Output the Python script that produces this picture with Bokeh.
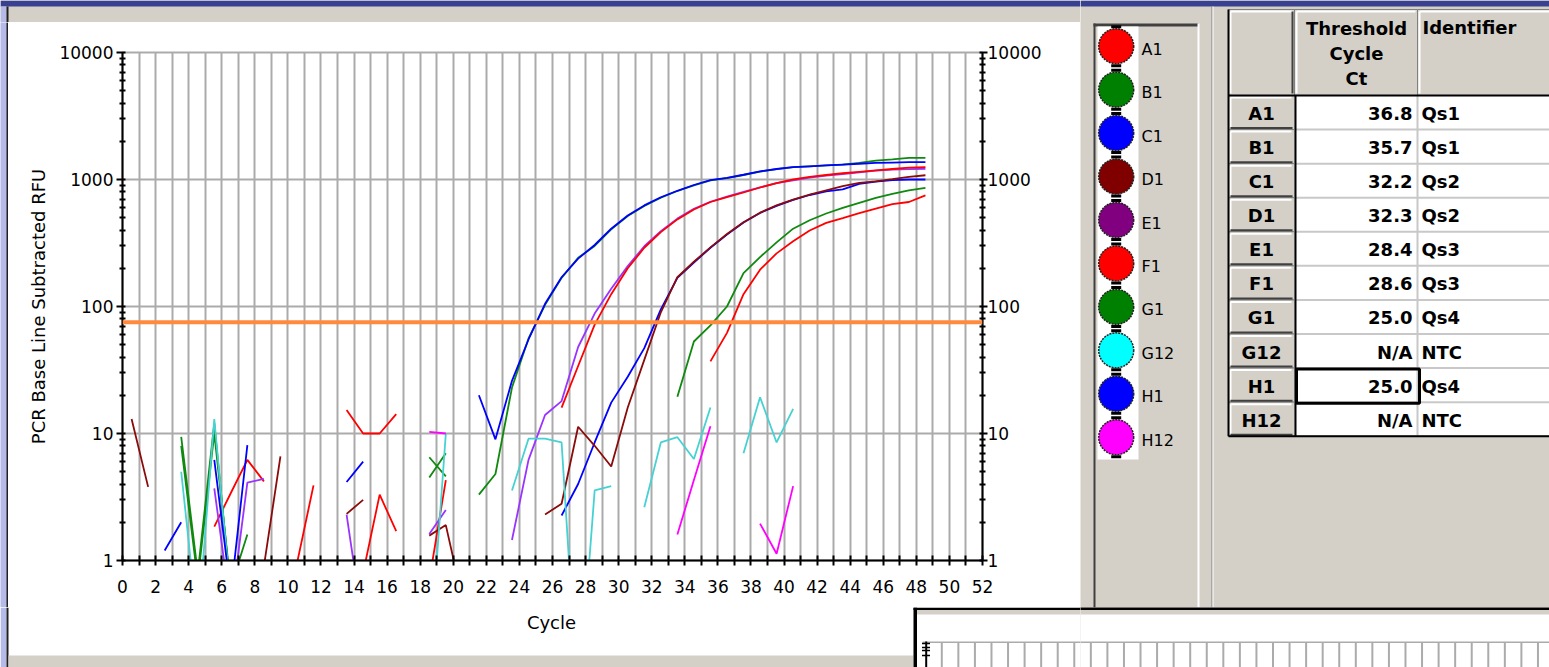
import numpy as np
from bokeh.plotting import figure
from bokeh.models import Range1d, LogAxis, FixedTicker, NumeralTickFormatter, Span
from bokeh.layouts import row, column
from bokeh.core.properties import value
from bokeh.embed import file_html
from bokeh.resources import INLINE

# ---------------- data ----------------
CYCLES = [0.55, 1.55, 2.55, 3.55, 4.55, 5.55, 6.55, 7.55, 8.55, 9.55,
          10.55, 11.55, 12.55, 13.55, 14.55, 15.55, 16.55, 17.55, 18.55, 19.55,
          20.55, 21.55, 22.55, 23.55, 24.55, 25.55, 26.55, 27.55, 28.55, 29.55,
          30.55, 31.55, 32.55, 33.55, 34.55, 35.55, 36.55, 37.55, 38.55, 39.55,
          40.55, 41.55, 42.55, 43.55, 44.55, 45.55, 46.55, 47.55, 48.55]
N = None
A1 = [N, N, N, N, N, 1.85, 3.4, 6.2, 4.2, N,
      N, N, N, N, 0.8, 3.3, 1.7, N, 0.7, 4.3,
      N, N, N, N, N, N, N, N, N, N,
      N, N, N, N, N, 37, 62, 125, 195, 262,
      326, 397, 455, 497, 544, 590, 640, 665, 750]
B1 = [N, N, N, 9.4, 0.8, 12, 0.55, N, N, N,
      N, N, N, N, N, N, N, N, 4.5, 7.0,
      N, N, N, N, N, N, N, N, N, N,
      N, N, N, 19.5, 53, 71, 100, 183, 245, 320,
      410, 478, 540, 598, 655, 718, 772, 820, 860]
C1 = [N, N, 1.2, 2.0, N, N, N, N, N, N,
      N, N, N, 4.15, 6.0, N, N, N, N, N,
      N, N, N, N, N, N, 2.26, 4.0, 8.5, 17.5,
      28, 47, 95, 168, 222, 290, 368, 458, 545, 620,
      690, 755, 805, 835, 925, 962, 990, 1000, 1000]
D1 = [13, 3.8, N, N, N, N, N, N, 0.9, 6.6,
      N, N, N, 2.33, 3.0, N, N, N, 1.57, 1.9,
      0.5, N, N, N, N, 2.3, 2.8, 11.3, 8.0, 5.5,
      16, 38, 90, 170, 225, 292, 372, 460, 548, 625,
      695, 760, 820, 885, 940, 965, 1005, 1050, 1080]
E1 = [N, N, N, N, N, 3.7, 0.4, 4.1, 4.4, N,
      N, N, N, 2.3, 0.3, N, N, N, 1.62, 2.5,
      N, N, N, 1.45, 6.2, 14, 18, 48, 88, 138,
      208, 298, 392, 492, 588, 668, 732, 798, 868, 935,
      985, 1035, 1075, 1105, 1140, 1175, 1195, 1205, 1215]
F1 = [N, N, N, N, N, N, N, N, N, N,
      0.95, 3.9, N, 15.3, 10, 10, 14.2, N, N, N,
      N, N, N, N, N, N, 16, 34, 72, 125,
      200, 290, 385, 485, 580, 665, 725, 790, 865, 935,
      1000, 1050, 1085, 1120, 1150, 1180, 1210, 1240, 1250]
G1 = [N, N, N, 8, 0.7, 10, 0.62, 1.6, N, N,
      N, N, N, N, N, N, N, N, 6.5, 4.6,
      N, 3.3, 4.8, 23, 56, 103, 168, 242, 300, 405,
      515, 618, 718, 812, 900, 985, 1025, 1085, 1155, 1205,
      1250, 1270, 1290, 1310, 1350, 1410, 1440, 1480, 1480]
G12 = [N, N, N, 5, 0.3, 13, 0.5, N, N, N,
       N, N, N, N, N, N, N, N, 0.15, 10,
       N, N, N, 3.56, 9.1, 9.1, 8.5, 0.07, 3.56, 3.85,
       N, 2.63, 8.5, 9.35, 6.3, 16, N, 7, 19.3, 8.5,
       15.6, N, N, N, N, N, N, N, N]
H1 = [N, N, N, N, N, 6.2, 0.55, 8.1, N, N,
      N, N, N, N, N, N, N, N, N, N,
      N, 20, 9, 26, 55, 105, 170, 238, 305, 410,
      520, 625, 725, 815, 905, 990, 1030, 1090, 1160, 1210,
      1250, 1270, 1290, 1310, 1330, 1350, 1360, 1370, 1370]
H12 = [N, N, N, N, N, N, N, N, N, N,
       N, N, N, N, N, N, N, N, 10.3, 10,
       N, N, N, N, N, N, N, N, N, N,
       N, N, N, 1.6, 4.3, 11.4, N, N, 1.95, 1.13,
       3.85, N, N, N, N, N, N, N, N]

WELLS = ["A1", "B1", "C1", "D1", "E1", "F1", "G1", "G12", "H1", "H12"]
SERIES = [A1, B1, C1, D1, E1, F1, G1, G12, H1, H12]
WELL_COLORS = ["#FF0000", "#008000", "#0000FF", "#800000", "#800080",
               "#FF0000", "#008000", "#00FFFF", "#0000FF", "#FF00FF"]
LINE_COLORS = ["#FF0000", "#0F8A0F", "#0000FF", "#8B0A0A", "#9A33FF",
               "#FF0000", "#0F8A0F", "#46D2D2", "#0000FF", "#FF00FF"]
CT = ["36.8", "35.7", "32.2", "32.3", "28.4", "28.6", "25.0", "N/A", "25.0", "N/A"]
IDENT = ["Qs1", "Qs1", "Qs2", "Qs2", "Qs3", "Qs3", "Qs4", "NTC", "Qs4", "NTC"]
THRESHOLD = 75
X_TICKS = list(range(0, 53, 2))
X_MINOR = list(range(1, 52, 2))
Y_TICKS = [1, 10, 100, 1000, 10000]
Y_MINOR = [m * 10 ** e for e in range(4) for m in range(2, 10)]
X_LABEL = "Cycle"
Y_LABEL = "PCR Base Line Subtracted RFU"

FONT = "DejaVu Sans"
PANEL = "#D4D0C8"
GRID = "#ABABAB"
NAVY = "#3A4090"
LAV = "#B6BAE8"


def panel_fig(w, h, x0, x1, y0, y1, bg):
    f = figure(width=w, height=h, x_range=Range1d(x0, x1), y_range=Range1d(y1, y0),
               output_backend="svg", toolbar_location=None, min_border=0, title=None,
               x_axis_location=None, y_axis_location=None)
    f.background_fill_color = bg
    f.border_fill_color = bg
    f.outline_line_color = None
    f.xgrid.visible = False
    f.ygrid.visible = False
    f.frame_align = False
    return f


# ---------------- chart ----------------
p = figure(width=1072, height=585, x_range=Range1d(0, 52), y_range=Range1d(1, 10000),
           y_axis_type="log", output_backend="svg", toolbar_location=None, title=None,
           min_border_left=114, min_border_right=98, min_border_top=30, min_border_bottom=47,
           y_axis_label=Y_LABEL)
p.frame_align = False
p.background_fill_color = "white"
p.border_fill_color = "white"
p.outline_line_color = GRID
p.outline_line_width = 2

yticker = FixedTicker(ticks=Y_TICKS, minor_ticks=Y_MINOR)


def style_y(ax, standoff, out):
    ax.ticker = yticker
    ax.formatter = NumeralTickFormatter(format="0")
    ax.major_label_text_font = FONT
    ax.major_label_text_font_size = "17px"
    ax.major_label_text_color = "black"
    ax.axis_line_color = "black"
    ax.axis_line_width = 2
    ax.major_tick_line_color = "black"
    ax.minor_tick_line_color = "black"
    ax.major_tick_line_width = 2
    ax.minor_tick_line_width = 2
    ax.major_tick_out = out
    ax.major_tick_in = 3
    ax.minor_tick_out = 3
    ax.minor_tick_in = 3
    ax.major_label_standoff = standoff


ya = p.yaxis[0]
style_y(ya, 3, 6)
ya.axis_label_text_font = FONT
ya.axis_label_text_font_size = "18px"
ya.axis_label_text_font_style = "normal"
ya.axis_label_text_color = "black"
ya.axis_label_standoff = 7

ra = LogAxis()
style_y(ra, 0, 5)
p.add_layout(ra, "right")

xa = p.xaxis[0]
xa.ticker = FixedTicker(ticks=X_TICKS, minor_ticks=X_MINOR)
xa.major_label_text_font = FONT
xa.major_label_text_font_size = "17px"
xa.major_label_text_color = "black"
xa.axis_line_color = "black"
xa.axis_line_width = 2
xa.major_tick_line_color = "black"
xa.minor_tick_line_color = "black"
xa.major_tick_line_width = 2
xa.minor_tick_line_width = 2
xa.major_tick_in = 5
xa.major_tick_out = 5
xa.minor_tick_in = 5
xa.minor_tick_out = 5
xa.major_label_standoff = 14

p.xgrid.ticker = FixedTicker(ticks=list(range(0, 53)))
p.ygrid.ticker = FixedTicker(ticks=[10, 100, 1000, 10000])
p.grid.grid_line_color = GRID
p.grid.grid_line_width = 2
p.grid.grid_line_alpha = 1

for vals, col in zip(SERIES, LINE_COLORS):
    p.line(CYCLES, np.array(vals, dtype=float), line_color=col, line_width=1.8)

p.add_layout(Span(location=THRESHOLD, dimension="width", line_color="#FF8A3D", line_width=4))

# ---------------- window pieces around the chart ----------------
top = panel_fig(1080, 22, 0, 1080, 0, 22, PANEL)
top.quad(left=0, right=1080, top=0, bottom=6, fill_color=NAVY, line_color=None)
top.quad(left=0, right=6, top=6, bottom=22, fill_color=LAV, line_color=None)
top.quad(left=6, right=8, top=6, bottom=22, fill_color="#202020", line_color=None)

edge = panel_fig(8, 585, 0, 8, 22, 607, LAV)
edge.quad(left=6, right=8, top=22, bottom=607, fill_color="#202020", line_color=None)

bot = panel_fig(1080, 60, 0, 1080, 607, 667, "white")
bot.quad(left=0, right=6, top=607, bottom=667, fill_color=LAV, line_color=None)
bot.quad(left=6, right=8, top=607, bottom=667, fill_color="#202020", line_color=None)
bot.quad(left=8, right=913, top=655, bottom=667, fill_color=PANEL, line_color=None)
bot.text(x=[551], y=[622], text=[X_LABEL], text_font=value(FONT), text_font_size="18px",
         text_align="center", text_baseline="middle", text_color="black")


def lower_window(f, x_end):
    f.quad(left=913, right=x_end, top=607, bottom=680, fill_color="white", line_color=None)
    f.quad(left=913, right=x_end, top=607, bottom=609.5, fill_color="black", line_color=None)
    f.quad(left=913, right=916.5, top=607, bottom=680, fill_color="black", line_color=None)
    f.quad(left=916.5, right=x_end, top=609.5, bottom=614, fill_color=PANEL, line_color=None)
    f.quad(left=922, right=x_end, top=641, bottom=642.5, fill_color=GRID, line_color=None)
    gxs = list(np.arange(941.3, x_end, 16.56))
    f.segment(x0=gxs, y0=[642] * len(gxs), x1=gxs, y1=[680] * len(gxs), line_color=GRID, line_width=2)
    f.quad(left=924.7, right=926.7, top=641, bottom=680, fill_color="black", line_color=None)
    f.segment(x0=[921.5] * 4, y0=[643, 647, 650, 655], x1=[929.5] * 4, y1=[643, 647, 650, 655],
              line_color="black", line_width=1.5)


lower_window(bot, 1080)

# ---------------- legend + table ----------------
r = panel_fig(469, 667, 1080, 1549, 0, 667, PANEL)
r.quad(left=1080, right=1549, top=0, bottom=6, fill_color=NAVY, line_color=None)

r.quad(left=1093, right=1095, top=23, bottom=607, fill_color="#404040", line_color=None)
r.quad(left=1093, right=1198, top=23, bottom=26, fill_color="#404040", line_color=None)
r.quad(left=1197, right=1199, top=23, bottom=607, fill_color="white", line_color=None)
r.quad(left=1211, right=1212, top=6, bottom=607, fill_color="#808080", line_color=None)
r.quad(left=1212, right=1213, top=6, bottom=607, fill_color="white", line_color=None)
r.quad(left=1097, right=1138, top=26, bottom=459, fill_color="white", line_color=None)

LEG_X = 1115.7
leg_y = [45.7 + 43.45 * i for i in range(len(WELLS))]
r.rect(x=[LEG_X] * len(WELLS), y=[v - 19.5 for v in leg_y], width=10, height=3,
       fill_color="black", line_color=None)
r.rect(x=[LEG_X] * len(WELLS), y=[v + 19.5 for v in leg_y], width=10, height=3,
       fill_color="black", line_color=None)
r.scatter(x=[LEG_X] * len(WELLS), y=leg_y, size=35, marker="circle",
          fill_color=WELL_COLORS, line_color="#202020", line_width=1.5, line_dash="2 1")
r.text(x=[1141] * len(WELLS), y=[v + 3 for v in leg_y], text=WELLS,
       text_font=value(FONT), text_font_size="16px", text_baseline="middle",
       text_align="left", text_color="black")

# table
TL, TC1, TC2, TR = 1228, 1294, 1417, 1560
HT, HB = 9, 95
RH = 34.07
nrow = len(WELLS)
row_top = [HB + RH * i for i in range(nrow)]
row_bot = [HB + RH * (i + 1) for i in range(nrow)]
TB = row_bot[-1]

r.quad(left=[TL, TC1, TC2], right=[TC1, TC2, TR], top=[HT] * 3, bottom=[HB] * 3,
       fill_color=PANEL, line_color="#808080", line_width=1)
r.segment(x0=[TL + 2, TC1 + 2, TC2 + 2], y0=[HT + 2] * 3, x1=[TC1 - 2, TC2 - 2, TR], y1=[HT + 2] * 3,
          line_color="white", line_width=2)
r.segment(x0=[TL + 2, TC1 + 2, TC2 + 2], y0=[HT + 2] * 3, x1=[TL + 2, TC1 + 2, TC2 + 2], y1=[HB - 2] * 3,
          line_color="white", line_width=2)
r.segment(x0=[TC1 - 2], y0=[HT + 2], x1=[TC1 - 2], y1=[HB - 2], line_color="#404040", line_width=2)
r.quad(left=[TL] * nrow, right=[TC1] * nrow, top=row_top, bottom=row_bot,
       fill_color=PANEL, line_color="#808080", line_width=1)
r.segment(x0=[TL + 2] * nrow, y0=[v + 2 for v in row_top], x1=[TC1 - 3] * nrow, y1=[v + 2 for v in row_top],
          line_color="white", line_width=2)
r.segment(x0=[TL + 2] * nrow, y0=[v + 2 for v in row_top], x1=[TL + 2] * nrow, y1=[v - 2 for v in row_bot],
          line_color="white", line_width=2)
r.segment(x0=[TL + 2] * nrow, y0=[v - 1.5 for v in row_bot], x1=[TC1 - 2] * nrow, y1=[v - 1.5 for v in row_bot],
          line_color="#404040", line_width=2)
r.quad(left=TC1, right=TR, top=HB, bottom=TB, fill_color="white", line_color=None)
r.segment(x0=[TC1] * nrow, y0=row_bot, x1=[TR] * nrow, y1=row_bot, line_color="#C8C8C8", line_width=2)
r.segment(x0=[TC2], y0=[HB], x1=[TC2], y1=[TB], line_color="#C8C8C8", line_width=2)
r.segment(x0=[TL, TL, TC1 + 1, TL], y0=[HT, HB, HB, TB], x1=[TL, TR, TC1 + 1, TR], y1=[TB, HB, TB, TB],
          line_color="black", line_width=2)
r.quad(left=TC1 + 2, right=TC2 + 2, top=row_top[8] + 1, bottom=row_bot[8] + 1,
       fill_alpha=0, line_color="black", line_width=3)

BOLD = dict(text_font=value(FONT), text_font_size="18px", text_font_style="bold",
            text_baseline="middle", text_color="black")
r.text(x=[1356] * 3, y=[28, 53, 78], text=["Threshold", "Cycle", "Ct"], text_align="center", **BOLD)
r.text(x=[1422], y=[27], text=["Identifier"], text_align="left", **BOLD)
row_mid = [(a + b) / 2 + 1 for a, b in zip(row_top, row_bot)]
r.text(x=[1261] * nrow, y=row_mid, text=WELLS, text_align="center", **BOLD)
r.text(x=[1412] * nrow, y=row_mid, text=CT, text_align="right", **BOLD)
r.text(x=[1421] * nrow, y=row_mid, text=IDENT, text_align="left", **BOLD)

lower_window(r, 1560)

left_block = column(top, row(edge, p), bot)
layout = row(left_block, r)
open("out.html", "w").write(file_html(layout, INLINE))
